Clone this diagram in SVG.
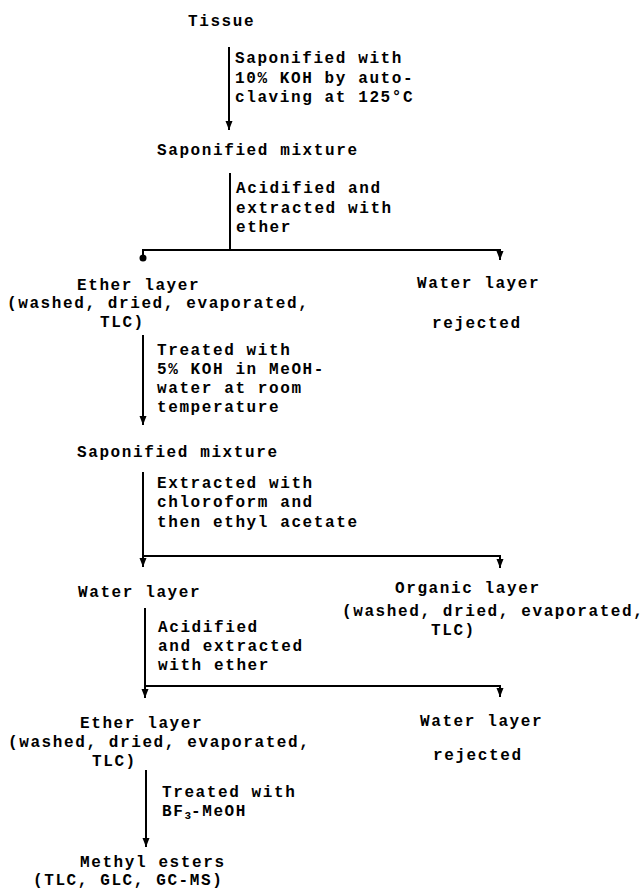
<svg xmlns="http://www.w3.org/2000/svg" width="644" height="890" viewBox="0 0 644 890">
<defs>
<style>
text{font-family:"Liberation Mono","DejaVu Sans Mono",monospace;font-size:16px;font-weight:bold;letter-spacing:1.6px;fill:#000}
.ln{fill:none;stroke:#000;stroke-width:2}
</style>
<marker id="ah" markerUnits="userSpaceOnUse" markerWidth="10" markerHeight="8" refX="9" refY="3.5" orient="auto">
<path d="M0,0 L9,3.5 L0,7 z" fill="#000"/>
</marker>
</defs>
<rect width="644" height="890" fill="#fff"/>
<g id="connectors">
<path class="ln" d="M229,47 V130" marker-end="url(#ah)"/>
<path class="ln" d="M230,173 V250"/>
<path class="ln" d="M143,256 V250 H500 V260" marker-end="url(#ah)"/>
<circle cx="143" cy="258" r="3.5" fill="#000"/>
<path class="ln" d="M143,335 V425" marker-end="url(#ah)"/>
<path class="ln" d="M143,472 V567" marker-end="url(#ah)"/>
<path class="ln" d="M143,556 H500 V568" marker-end="url(#ah)"/>
<path class="ln" d="M145,608 V698" marker-end="url(#ah)"/>
<path class="ln" d="M145,686 H500 V697" marker-end="url(#ah)"/>
<path class="ln" d="M146,770 V847" marker-end="url(#ah)"/>
</g>
<g id="labels">
<text x="235" y="63">Saponified with</text>
<text x="235" y="83">10% KOH by auto-</text>
<text x="235" y="102">claving at 125°C</text>
<text x="236" y="193">Acidified and</text>
<text x="236" y="213">extracted with</text>
<text x="236" y="232">ether</text>
<text x="157" y="355">Treated with</text>
<text x="157" y="374">5% KOH in MeOH-</text>
<text x="157" y="393">water at room</text>
<text x="157" y="412">temperature</text>
<text x="157" y="488">Extracted with</text>
<text x="157" y="507">chloroform and</text>
<text x="157" y="527">then ethyl acetate</text>
<text x="158" y="632">Acidified</text>
<text x="158" y="651">and extracted</text>
<text x="158" y="670">with ether</text>
<text x="162" y="797">Treated with</text>
<text x="162" y="816">BF<tspan dy="3" style="font-size:11px">3</tspan><tspan x="191" dy="-3">-MeOH</tspan></text>
</g>
<g id="tissue"><text x="188" y="26">Tissue</text></g>
<g id="saponified1"><text x="157" y="155">Saponified mixture</text></g>
<g id="ether1">
<text x="77" y="290">Ether layer</text>
<text x="7" y="308">(washed, dried, evaporated,</text>
<text x="100" y="327">TLC)</text>
</g>
<g id="water1">
<text x="417" y="288">Water layer</text>
<text x="432" y="328">rejected</text>
</g>
<g id="saponified2"><text x="77" y="457">Saponified mixture</text></g>
<g id="water2"><text x="78" y="597">Water layer</text></g>
<g id="organic">
<text x="395" y="593">Organic layer</text>
<text x="342" y="616">(washed, dried, evaporated,</text>
<text x="431" y="635">TLC)</text>
</g>
<g id="ether2">
<text x="80" y="728">Ether layer</text>
<text x="8" y="747">(washed, dried, evaporated,</text>
<text x="92" y="766">TLC)</text>
</g>
<g id="water3">
<text x="420" y="726">Water layer</text>
<text x="433" y="760">rejected</text>
</g>
<g id="methyl">
<text x="80" y="867">Methyl esters</text>
<text x="33" y="885">(TLC, GLC, GC-MS)</text>
</g>
</svg>
